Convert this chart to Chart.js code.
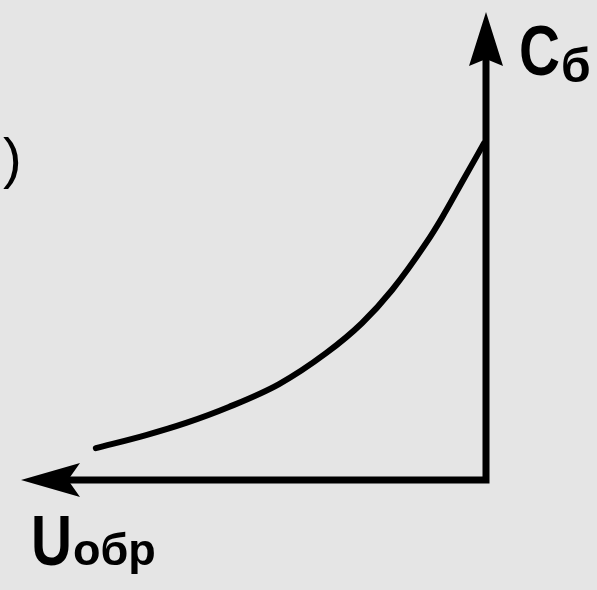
<!DOCTYPE html>
<html>
<head>
<meta charset="utf-8">
<script src="https://cdn.jsdelivr.net/npm/chart.js@4/dist/chart.umd.min.js"></script>
<style>
  html, body { margin: 0; padding: 0; background: #e5e5e5; }
  #wrap { position: relative; width: 597px; height: 590px; overflow: hidden; }
  #capChart { position: absolute; left: 0; top: 0; }
  .lbl { position: absolute; font-family: "Liberation Sans", Arial, sans-serif; font-weight: bold; color: #000; line-height: 1; white-space: nowrap; transform-origin: left top; }
  .narrow { transform: scaleX(0.8); }
</style>
</head>
<body>
<div id="wrap">
  <canvas id="capChart" width="597" height="590"></canvas>
  <div class="lbl narrow" style="left:519px; top:15px; font-size:71px;">C</div>
  <div class="lbl" style="left:561px; top:42px; font-size:48px;">б</div>
  <div class="lbl narrow" style="left:31px; top:505px; font-size:71px;">U</div>
  <div class="lbl" style="left:73px; top:527px; font-size:45px;">обр</div>
  <div class="lbl" style="left:3px; top:130px; font-size:56px; font-weight:normal;">)</div>
</div>
<script>
// reverse voltage (grows to the left) and barrier capacitance, arbitrary units
const reverseVoltage = [0.04, 0.49, 0.95, 1.29, 2.02, 2.67, 3.44, 4.45, 5.53, 6.45, 7.31, 8.39];
const capacitance    = [7.2, 6.41, 5.6, 5.06, 4.06, 3.35, 2.71, 2.05, 1.56, 1.22, 0.96, 0.68];
const axisMax = 10;

const curvePoints = reverseVoltage.map((u, i) => ({ x: u, y: capacitance[i] }));

// draws both axes with arrowheads from the scales
const axesPlugin = {
  id: "arrowAxes",
  beforeDatasetsDraw(chart) {
    const ctx = chart.ctx;
    const xs = chart.scales.x;
    const ys = chart.scales.y;
    const ox = xs.getPixelForValue(0);
    const oy = ys.getPixelForValue(0);
    const xTip = xs.getPixelForValue(axisMax);
    const yTip = ys.getPixelForValue(axisMax);

    ctx.save();
    ctx.strokeStyle = "#000";
    ctx.fillStyle = "#000";
    ctx.lineWidth = 7;
    ctx.lineCap = "square";

    ctx.beginPath();
    ctx.moveTo(ox, oy);
    ctx.lineTo(ox, yTip + 40);
    ctx.moveTo(ox, oy);
    ctx.lineTo(xTip + 40, oy);
    ctx.stroke();

    // vertical arrowhead
    ctx.beginPath();
    ctx.moveTo(ox, yTip);
    ctx.lineTo(ox - 17, yTip + 54);
    ctx.lineTo(ox, yTip + 47);
    ctx.lineTo(ox + 17, yTip + 54);
    ctx.closePath();
    ctx.fill();

    // horizontal arrowhead
    ctx.beginPath();
    ctx.moveTo(xTip, oy);
    ctx.lineTo(xTip + 59, oy - 17);
    ctx.lineTo(xTip + 47, oy);
    ctx.lineTo(xTip + 59, oy + 17);
    ctx.closePath();
    ctx.fill();
    ctx.restore();
  }
};

new Chart(document.getElementById("capChart"), {
  type: "line",
  data: {
    datasets: [
      {
        data: curvePoints,
        borderColor: "#000",
        borderWidth: 6,
        borderCapStyle: "round",
        pointRadius: 0,
        cubicInterpolationMode: "monotone",
        fill: false
      }
    ]
  },
  options: {
    responsive: false,
    animation: false,
    layout: { padding: { left: 21, right: 111, top: 12, bottom: 110 } },
    plugins: { legend: { display: false }, tooltip: { enabled: false } },
    scales: {
      x: { type: "linear", reverse: true, min: 0, max: axisMax, display: false },
      y: { type: "linear", min: 0, max: axisMax, display: false }
    }
  },
  plugins: [axesPlugin]
});
</script>
</body>
</html>
